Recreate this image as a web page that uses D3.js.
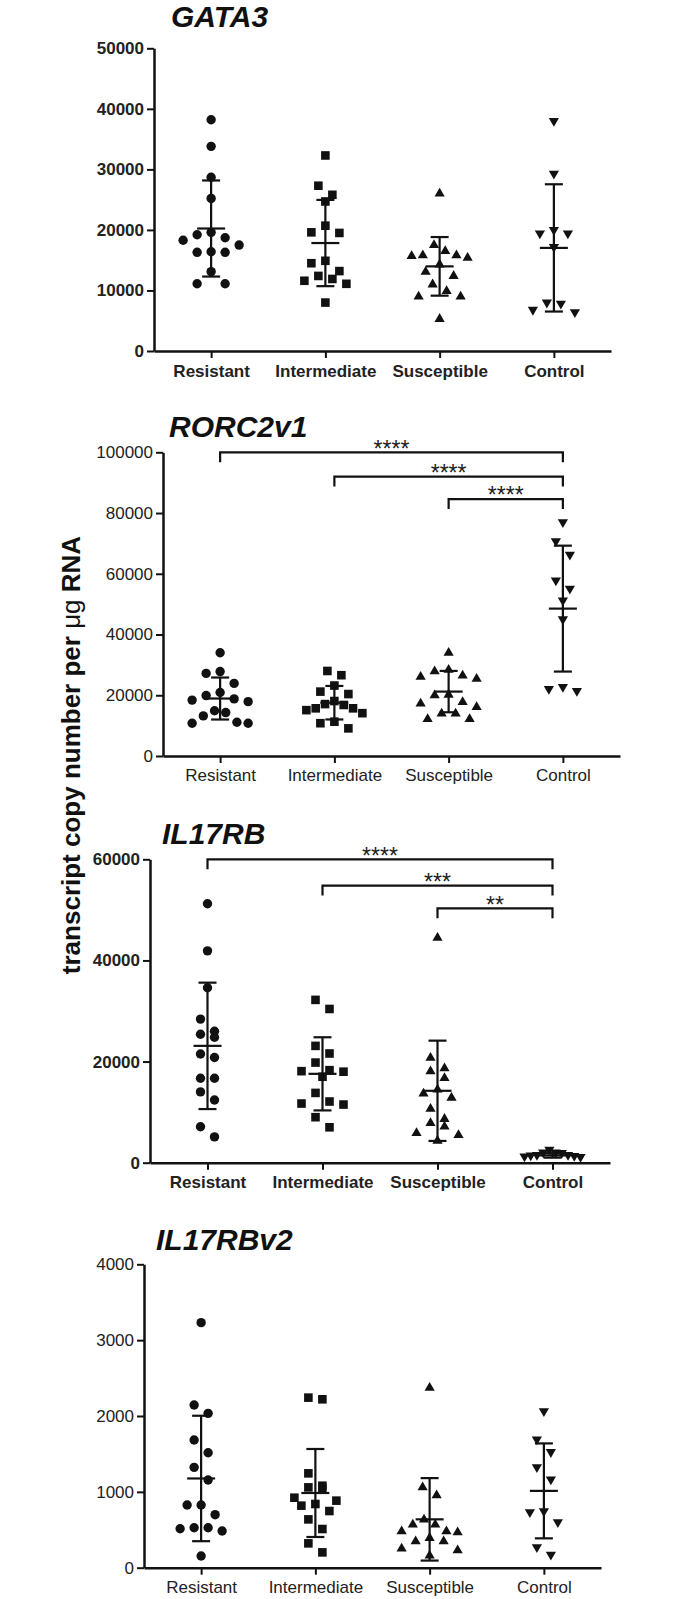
<!DOCTYPE html>
<html><head><meta charset="utf-8">
<script src="https://cdn.jsdelivr.net/npm/d3@7"></script>
<style>body{margin:0;background:#fff} svg{display:block}</style>
</head><body><svg id="chart" width="682" height="1599"></svg>
<script>
// ---------- DATA ----------
const categories = ["Resistant","Intermediate","Susceptible","Control"];

const gata3Resistant    = [38200,33800,28700,25200,19600,19200,18700,18300,17500,16300,16300,16400,13100,11100,11100];
const gata3Intermediate = [32300,27300,25800,24700,20700,19600,19500,14900,14500,13200,12400,11600,11900,11100,8000];
const gata3Susceptible  = [26200,17700,16700,16000,15900,15600,16000,14500,13300,12600,11200,10100,9200,9200,5500];
const gata3Control      = [37800,29100,19800,19200,19200,17000,7600,7800,6200,6600];

const rorcResistant     = [34000,27800,27200,23900,19900,20900,17900,18400,18800,14300,14900,13200,11100,10800,10800];
const rorcIntermediate  = [28000,26600,23200,20400,21200,17100,18100,15700,15100,15700,16800,14100,11300,10800,9100];
const rorcSusceptible   = [34400,28800,28300,26900,25800,26500,20600,20400,18200,17700,16500,14400,14400,12600,12600];
const rorcControl       = [76600,70300,65900,57400,54700,50800,44600,22300,21000,21700];

const il17rbResistant    = [51200,41900,34600,28400,26000,25400,24800,21500,20800,16700,16700,14000,12400,7100,5100];
const il17rbIntermediate = [32200,30400,23100,21600,19800,18100,18000,18300,17000,13800,11700,11500,12100,9000,7000];
const il17rbSusceptible  = [44700,21000,18900,18300,17000,14700,13900,13100,10900,8900,8100,7400,6100,5700,4600];
const il17rbControl      = [1800,1000,1300,1700,1100,2300,1200,900,1300,1800];

const il17rbv2Resistant    = [3231,2145,2035,1684,1516,1323,1156,826,826,699,527,514,484,527,154];
const il17rbv2Intermediate = [2242,2220,1244,1059,1046,1081,923,884,840,818,747,637,510,321,202];
const il17rbv2Susceptible  = [2387,1077,971,651,585,585,497,484,497,409,365,365,268,246,176];
const il17rbv2Control      = [2048,1675,1508,1310,1147,716,730,585,255,154];

const rorcComparisons   = [["Resistant","Control","****"],["Intermediate","Control","****"],["Susceptible","Control","****"]];
const il17rbComparisons = [["Resistant","Control","****"],["Intermediate","Control","***"],["Susceptible","Control","**"]];

const yAxisLabel = "transcript copy number per ";

// ---------- LAYOUT ----------
const panels = [
  {title:"GATA3", groups:[gata3Resistant,gata3Intermediate,gata3Susceptible,gata3Control],
   yMax:50000, tickStep:10000, x0:154, x1:611, yTop:48.3, yBottom:351, bold:true,
   titleX:171, titleY:27, labelY:377, comps:null},
  {title:"RORC2v1", groups:[rorcResistant,rorcIntermediate,rorcSusceptible,rorcControl],
   yMax:100000, tickStep:20000, x0:163, x1:620, yTop:452.3, yBottom:756, bold:false,
   titleX:169, titleY:437, labelY:781, comps:rorcComparisons, compLevels:[100000,92000,84600]},
  {title:"IL17RB", groups:[il17rbResistant,il17rbIntermediate,il17rbSusceptible,il17rbControl],
   yMax:60000, tickStep:20000, x0:150, x1:610, yTop:859.3, yBottom:1162.7, bold:true,
   titleX:162, titleY:844, labelY:1188, comps:il17rbComparisons, compLevels:[60000,54800,50300]},
  {title:"IL17RBv2", groups:[il17rbv2Resistant,il17rbv2Intermediate,il17rbv2Susceptible,il17rbv2Control],
   yMax:4000, tickStep:1000, x0:144, x1:601, yTop:1264.3, yBottom:1567.7, bold:false,
   titleX:156, titleY:1250, labelY:1593, comps:null}
];

const FONT = "'Liberation Sans', Arial, Helvetica, sans-serif";
const svg = d3.select("#chart");

const markerPaths = [
  null, // circle
  "M-4.3,-4.3H4.3V4.3H-4.3Z",
  "M0,-4.6L5.1,4.2L-5.1,4.2Z",
  "M0,4.6L5.1,-4.2L-5.1,-4.2Z"
];

function swarmOffsets(values, y, slot=14, thresh=13.5, maxSpan=56) {
  const idx = d3.range(values.length).sort((a,b)=>values[b]-values[a]);
  const offsets = new Array(values.length).fill(0);
  let i = 0;
  while (i < idx.length) {
    const row = [idx[i]];
    const yFirst = y(values[idx[i]]);
    let j = i + 1;
    while (j < idx.length && y(values[idx[j]]) - yFirst < thresh) { row.push(idx[j]); j++; }
    const n = row.length;
    const step = n > 1 ? Math.min(slot, maxSpan/(n-1)) : 0;
    const pos = d3.range(n).map(k => (k-(n-1)/2)*step);
    const order = d3.range(n).sort((a,b)=>Math.abs(pos[a])-Math.abs(pos[b]) || pos[a]-pos[b]);
    row.forEach((pi,k)=>{ offsets[pi] = pos[order[k]]; });
    i = j;
  }
  return offsets;
}

panels.forEach(p => {
  const g = svg.append("g");
  const x = d3.scalePoint().domain(categories).range([p.x0, p.x1]).padding(0.5);
  const y = d3.scaleLinear().domain([0, p.yMax]).range([p.yBottom, p.yTop]);
  const weight = p.bold ? "bold" : "normal";

  // title
  g.append("text").attr("x", p.titleX).attr("y", p.titleY)
    .attr("font-family", FONT).attr("font-size", 30).attr("font-weight", "bold")
    .attr("font-style", "italic").attr("fill", "#111").text(p.title);

  // y axis
  const yAxis = d3.axisLeft(y).tickValues(d3.range(0, p.yMax + 1, p.tickStep))
    .tickFormat(d3.format("d")).tickSize(7).tickSizeOuter(0).tickPadding(3);
  g.append("g").attr("transform", `translate(${p.x0},0)`).call(yAxis)
    .call(a => a.select(".domain").attr("stroke", "#111").attr("stroke-width", 2.5))
    .call(a => a.selectAll(".tick line").attr("stroke", "#111").attr("stroke-width", 2))
    .call(a => a.selectAll("text").attr("font-family", FONT).attr("font-size", 17)
      .attr("font-weight", weight).attr("fill", "#222"));

  // x axis
  const xAxis = d3.axisBottom(x).tickSize(7).tickSizeOuter(0);
  g.append("g").attr("transform", `translate(0,${p.yBottom})`).call(xAxis)
    .call(a => a.select(".domain").attr("stroke", "#111").attr("stroke-width", 2.5))
    .call(a => a.selectAll(".tick line").attr("stroke", "#111").attr("stroke-width", 2))
    .call(a => a.selectAll("text").attr("font-family", FONT).attr("font-size", 17)
      .attr("font-weight", weight).attr("fill", "#222")
      .attr("y", p.labelY - p.yBottom).attr("dy", 0));

  // points + error bars
  p.groups.forEach((vals, ci) => {
    const cx = x(categories[ci]);
    const offs = swarmOffsets(vals, y);
    const pts = g.append("g").attr("fill", "#111");
    vals.forEach((v, k) => {
      const px = cx + offs[k], py = y(v);
      if (ci === 0) pts.append("circle").attr("cx", px).attr("cy", py).attr("r", 4.7);
      else pts.append("path").attr("d", markerPaths[ci]).attr("transform", `translate(${px},${py})`);
    });
    const m = d3.mean(vals), s = d3.deviation(vals);
    const eb = g.append("g").attr("stroke", "#111").attr("stroke-width", 2.2).attr("fill", "none");
    eb.append("line").attr("x1", cx).attr("x2", cx).attr("y1", y(m + s)).attr("y2", y(m - s));
    [m + s, m - s].forEach(v => eb.append("line").attr("x1", cx - 9).attr("x2", cx + 9).attr("y1", y(v)).attr("y2", y(v)));
    eb.append("line").attr("x1", cx - 14).attr("x2", cx + 14).attr("y1", y(m)).attr("y2", y(m));
  });

  // significance brackets
  if (p.comps) {
    p.comps.forEach((c, i) => {
      const xa = x(c[0]), xb = x(c[1]), yy = y(p.compLevels[i]);
      g.append("path").attr("d", `M${xa},${yy + 10}V${yy}H${xb}V${yy + 10}`)
        .attr("fill", "none").attr("stroke", "#111").attr("stroke-width", 2.2);
      g.append("text").attr("x", (xa + xb) / 2).attr("y", yy + 4.4)
        .attr("text-anchor", "middle").attr("font-family", FONT).attr("font-size", 23)
        .attr("fill", "#222").text(c[2]);
    });
  }
});

// shared y-axis label
const lab = svg.append("text").attr("transform", "translate(80,755) rotate(-90)")
  .attr("text-anchor", "middle").attr("font-family", FONT).attr("font-size", 26)
  .attr("font-weight", "bold").attr("fill", "#111");
lab.append("tspan").text(yAxisLabel);
lab.append("tspan").attr("font-weight", "normal").text("\u03BCg");
lab.append("tspan").text(" RNA");
</script>
</body></html>
